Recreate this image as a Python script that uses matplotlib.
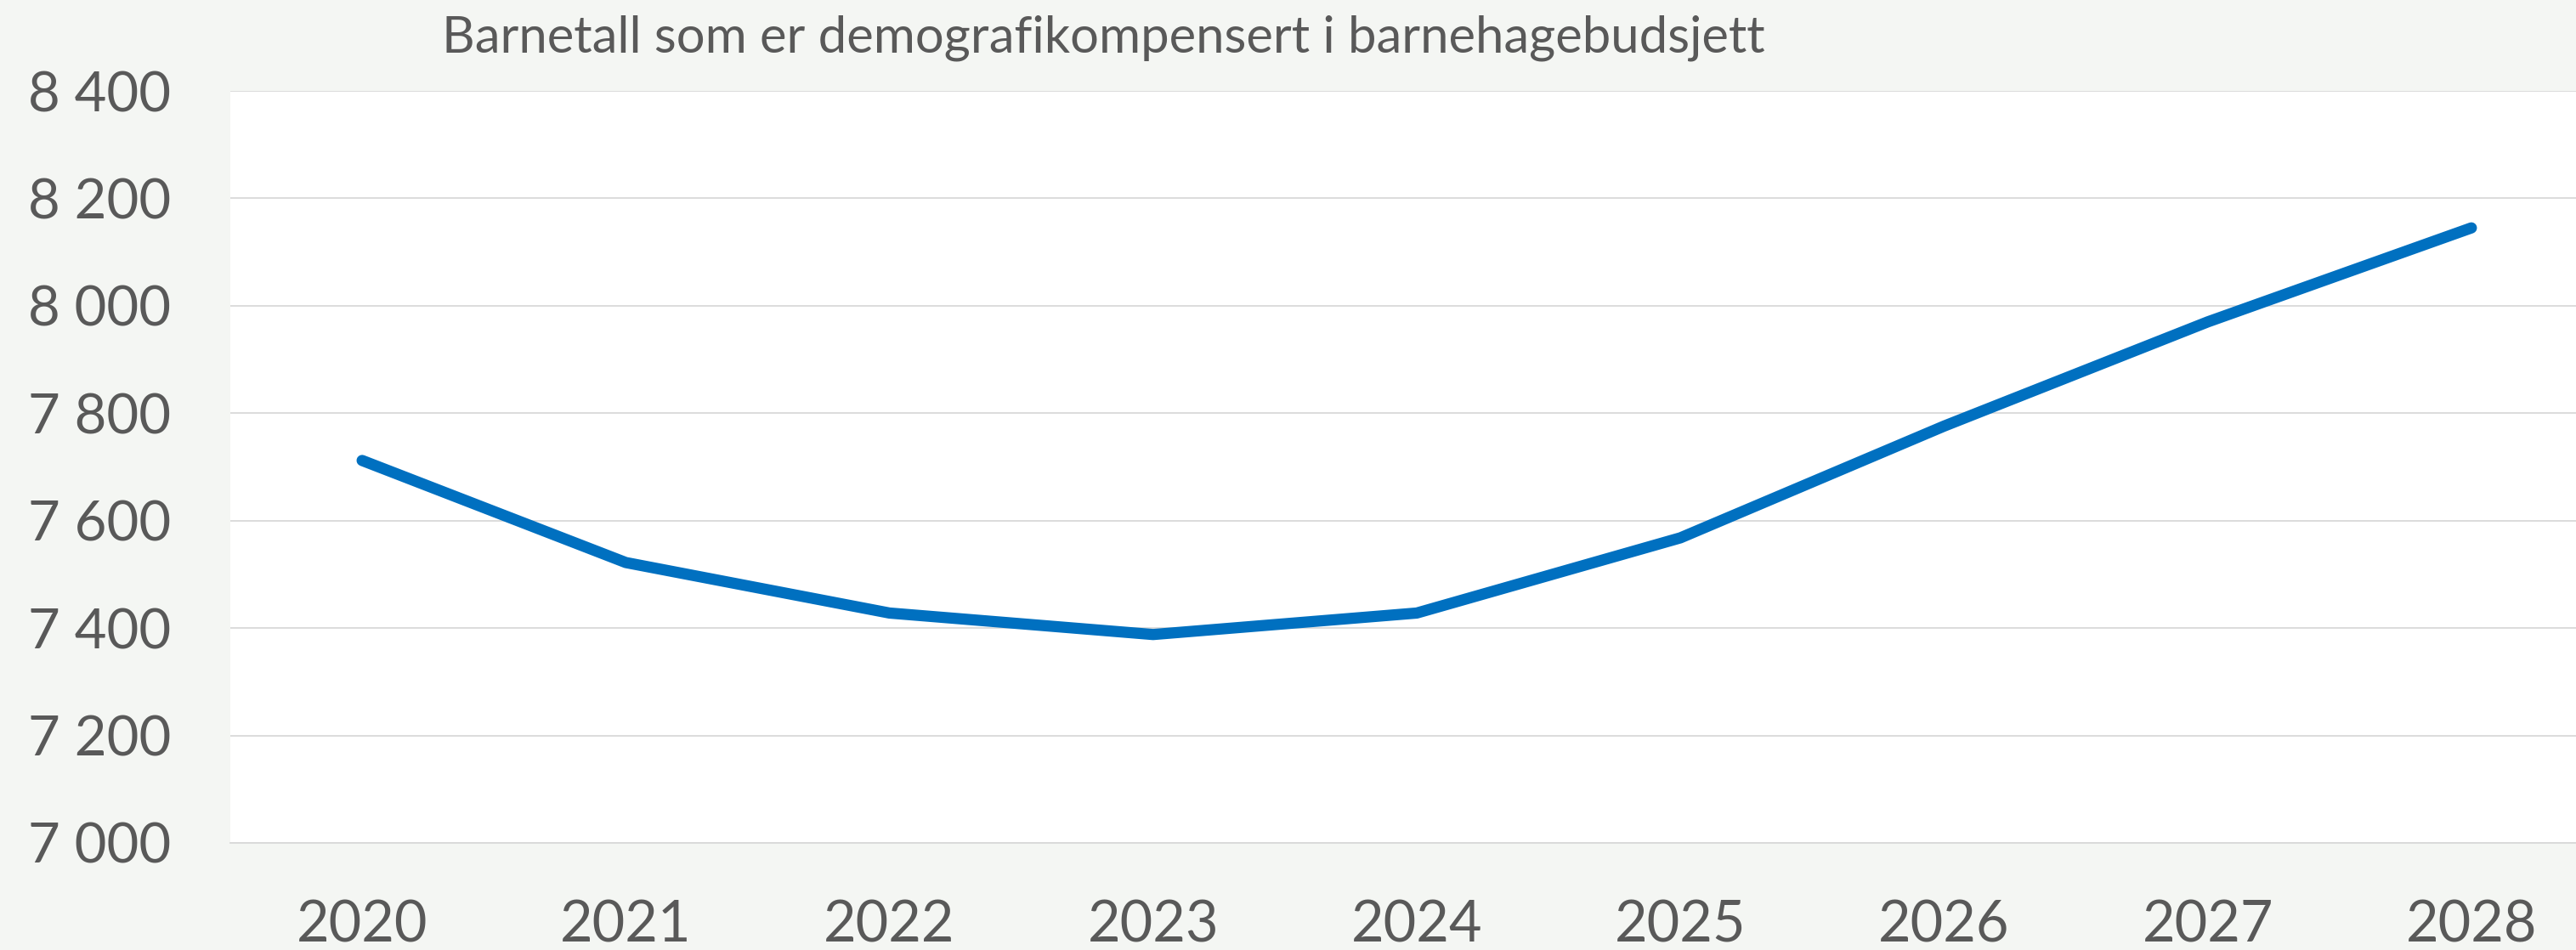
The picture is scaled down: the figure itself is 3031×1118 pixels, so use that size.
import numpy as np
import matplotlib.pyplot as plt
from matplotlib.ticker import FuncFormatter

# data
years = ['2020', '2021', '2022', '2023', '2024', '2025', '2026', '2027', '2028']
barnetall = [7712, 7522, 7428, 7388, 7428, 7568, 7776, 7970, 8145]
title = 'Barnetall som er demografikompensert i barnehagebudsjett'

plt.rcParams['font.family'] = ['Lato', 'DejaVu Sans']

bg = '#f4f6f3'
grey_txt = '#595959'

fig = plt.figure(figsize=(30.31, 11.18), dpi=100, facecolor=bg)
ax = fig.add_axes([271 / 3031, 126 / 1118, (3063 - 271) / 3031, (992 - 107) / 1118])
ax.set_facecolor('white')

x = np.arange(len(years))
ax.plot(x, barnetall, color='#0070c0', linewidth=9.5, solid_capstyle='round',
        solid_joinstyle='round', zorder=3)

ax.set_xlim(-0.5, len(years) - 0.5)
ax.set_ylim(7000, 8400)
ax.set_yticks(np.arange(7000, 8401, 200))
ax.yaxis.set_major_formatter(FuncFormatter(lambda v, p: f'{int(v):,}'.replace(',', ' ')))
ax.set_xticks(x)
ax.set_xticklabels(years)

ax.grid(axis='y', color='#d9d9d9', linewidth=1.3)
ax.set_axisbelow(True)
for s in ['top', 'right', 'left']:
    ax.spines[s].set_visible(False)
ax.spines['bottom'].set_color('#d9d9d9')
ax.spines['bottom'].set_linewidth(1.3)

ax.tick_params(axis='both', length=0, labelcolor=grey_txt)
ax.tick_params(axis='y', pad=50, labelsize=47)
ax.tick_params(axis='x', pad=48, labelsize=48)

fig.text(520 / 3031, 1 - 62 / 1118, title, fontsize=43, color=grey_txt,
         ha='left', va='baseline')

fig.savefig('out.png', dpi=100, facecolor=bg)
